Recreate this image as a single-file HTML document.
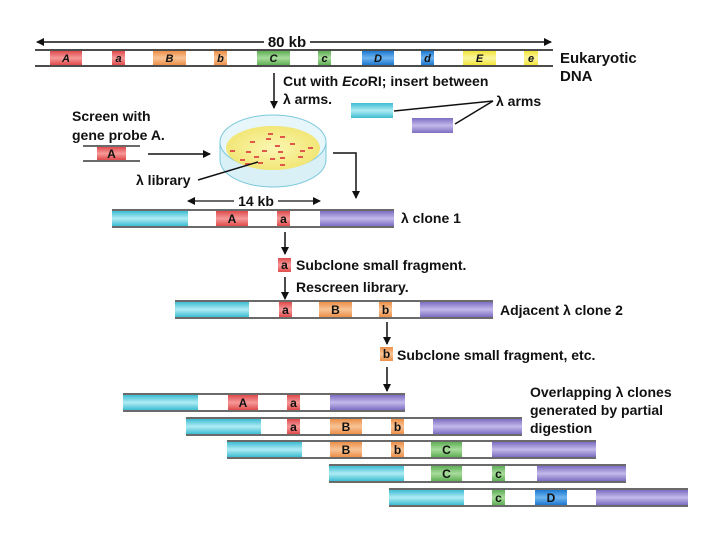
<!DOCTYPE html>
<html><head><meta charset="utf-8"><style>
html,body{margin:0;padding:0;background:#fff}
svg{display:block}
text{font-family:"Liberation Sans","DejaVu Sans",sans-serif;font-weight:bold;fill:#111}
</style></head><body>
<svg width="720" height="540" viewBox="0 0 720 540" xmlns="http://www.w3.org/2000/svg">
<defs>
<linearGradient id="gr" x1="0" y1="0" x2="0" y2="1"><stop offset="0" stop-color="#e04a4c"/><stop offset=".5" stop-color="#f59a98"/><stop offset="1" stop-color="#e04a4c"/></linearGradient>
<linearGradient id="go" x1="0" y1="0" x2="0" y2="1"><stop offset="0" stop-color="#ec8f48"/><stop offset=".5" stop-color="#f8c496"/><stop offset="1" stop-color="#ec8f48"/></linearGradient>
<linearGradient id="gg" x1="0" y1="0" x2="0" y2="1"><stop offset="0" stop-color="#5fae55"/><stop offset=".5" stop-color="#a8dc9c"/><stop offset="1" stop-color="#5fae55"/></linearGradient>
<linearGradient id="gb" x1="0" y1="0" x2="0" y2="1"><stop offset="0" stop-color="#1c78d0"/><stop offset=".5" stop-color="#6fb4ee"/><stop offset="1" stop-color="#1c78d0"/></linearGradient>
<linearGradient id="gy" x1="0" y1="0" x2="0" y2="1"><stop offset="0" stop-color="#f2e43a"/><stop offset=".5" stop-color="#fbf5a0"/><stop offset="1" stop-color="#f2e43a"/></linearGradient>
<linearGradient id="gc" x1="0" y1="0" x2="0" y2="1"><stop offset="0" stop-color="#3cbcd2"/><stop offset=".5" stop-color="#b0ecf4"/><stop offset="1" stop-color="#3cbcd2"/></linearGradient>
<linearGradient id="gp" x1="0" y1="0" x2="0" y2="1"><stop offset="0" stop-color="#7d6cc2"/><stop offset=".5" stop-color="#c4baea"/><stop offset="1" stop-color="#7d6cc2"/></linearGradient>
<marker id="ah" markerWidth="8" markerHeight="8" refX="7" refY="4" orient="auto" markerUnits="userSpaceOnUse"><path d="M0,0 L8,4 L0,8 Z" fill="#111"/></marker>
<radialGradient id="gd" cx=".5" cy=".5" r=".5"><stop offset="0" stop-color="#fbf7b4"/><stop offset="1" stop-color="#f2e676"/></radialGradient>
</defs>

<!-- top DNA -->
<line x1="37" y1="42" x2="270" y2="42" stroke="#111" stroke-width="1.5" marker-end="url(#ah)" transform="rotate(180 153.5 42)"/>
<line x1="305" y1="42" x2="551" y2="42" stroke="#111" stroke-width="1.5" marker-end="url(#ah)"/>
<rect x="264" y="34" width="46" height="14" fill="#fff"/>
<text x="287" y="47" font-size="15" text-anchor="middle">80 kb</text>
<g font-size="11" font-style="italic" text-anchor="middle">
<rect x="50" y="51" width="32" height="14" fill="url(#gr)"/><text x="66" y="62">A</text>
<rect x="112" y="51" width="13" height="14" fill="url(#gr)"/><text x="118.5" y="62">a</text>
<rect x="153" y="51" width="33" height="14" fill="url(#go)"/><text x="169.5" y="62">B</text>
<rect x="214" y="51" width="13" height="14" fill="url(#go)"/><text x="220.5" y="62">b</text>
<rect x="257" y="51" width="33" height="14" fill="url(#gg)"/><text x="273.5" y="62">C</text>
<rect x="318" y="51" width="13" height="14" fill="url(#gg)"/><text x="324.5" y="62">c</text>
<rect x="362" y="51" width="32" height="14" fill="url(#gb)"/><text x="378" y="62">D</text>
<rect x="421" y="51" width="13" height="14" fill="url(#gb)"/><text x="427.5" y="62">d</text>
<rect x="463" y="51" width="33" height="14" fill="url(#gy)"/><text x="479.5" y="62">E</text>
<rect x="524" y="51" width="14" height="14" fill="url(#gy)"/><text x="531" y="62">e</text>
</g>
<line x1="35" y1="50" x2="553" y2="50" stroke="#111" stroke-width="1.5"/>
<line x1="35" y1="66" x2="553" y2="66" stroke="#111" stroke-width="1.5"/>
<text x="560" y="63" font-size="15">Eukaryotic</text>
<text x="560" y="81" font-size="15">DNA</text>

<line x1="274" y1="73" x2="274" y2="108" stroke="#111" stroke-width="1.5" marker-end="url(#ah)"/>
<text x="283" y="86" font-size="14">Cut with <tspan font-style="italic">Eco</tspan>RI; insert between</text>
<text x="283" y="104" font-size="14">λ arms.</text>
<rect x="351" y="103" width="42" height="15" fill="url(#gc)"/>
<rect x="412" y="118" width="41" height="15" fill="url(#gp)"/>
<line x1="493" y1="101" x2="394" y2="111" stroke="#111" stroke-width="1.5"/>
<line x1="493" y1="101" x2="455" y2="124" stroke="#111" stroke-width="1.5"/>
<text x="496" y="106" font-size="14">λ arms</text>

<!-- screen -->
<text x="72" y="121" font-size="14">Screen with</text>
<text x="72" y="140" font-size="14">gene probe A.</text>
<rect x="97" y="147" width="29" height="13" fill="url(#gr)"/>
<text x="111.5" y="158" font-size="12" text-anchor="middle">A</text>
<line x1="83" y1="146" x2="140" y2="146" stroke="#111" stroke-width="1.2"/>
<line x1="83" y1="161" x2="140" y2="161" stroke="#111" stroke-width="1.2"/>
<line x1="148" y1="154" x2="210" y2="154" stroke="#111" stroke-width="1.5" marker-end="url(#ah)"/>

<!-- dish -->
<path d="M220,142 L220,160 A53,27 0 0 0 326,160 L326,142" fill="#d8f0f6" stroke="#7cc8dc" stroke-width="1"/>
<ellipse cx="273" cy="142" rx="53" ry="27" fill="#e6f6fa" stroke="#7cc8dc" stroke-width="1"/>
<ellipse cx="273" cy="148" rx="47" ry="22" fill="url(#gd)"/>
<g fill="#e0584a">
<rect x="268" y="133" width="5" height="2"/><rect x="280" y="136" width="5" height="2"/><rect x="250" y="141" width="5" height="2"/><rect x="275" y="145" width="5" height="2"/><rect x="290" y="143" width="5" height="2"/><rect x="230" y="150" width="5" height="2"/><rect x="246" y="151" width="5" height="2"/><rect x="262" y="150" width="5" height="2"/><rect x="278" y="151" width="5" height="2"/><rect x="300" y="150" width="5" height="2"/><rect x="308" y="147" width="5" height="2"/><rect x="254" y="156" width="5" height="2"/><rect x="270" y="158" width="5" height="2"/><rect x="280" y="157" width="5" height="2"/><rect x="298" y="156" width="5" height="2"/><rect x="240" y="159" width="5" height="2"/><rect x="258" y="162" width="5" height="2"/><rect x="280" y="164" width="5" height="2"/><rect x="245" y="163" width="5" height="2"/><rect x="266" y="138" width="5" height="2"/>
</g>
<line x1="198" y1="180" x2="258" y2="162" stroke="#111" stroke-width="1.5"/>
<text x="136" y="185" font-size="14">λ library</text>
<polyline points="333,153 356,153 356,198" fill="none" stroke="#111" stroke-width="1.5" marker-end="url(#ah)"/>

<!-- clone 1 -->
<line x1="188" y1="201" x2="238" y2="201" stroke="#111" stroke-width="1.2" marker-end="url(#ah)" transform="rotate(180 213 201)"/>
<line x1="276" y1="201" x2="320" y2="201" stroke="#111" stroke-width="1.2" marker-end="url(#ah)"/>
<rect x="234" y="194" width="44" height="13" fill="#fff"/>
<text x="256" y="206" font-size="14" text-anchor="middle">14 kb</text>
<g font-size="12" text-anchor="middle">
<rect x="112" y="211" width="76" height="15" fill="url(#gc)"/>
<rect x="216" y="211" width="32" height="15" fill="url(#gr)"/><text x="232" y="223">A</text>
<rect x="277" y="211" width="13" height="15" fill="url(#gr)"/><text x="283.5" y="223">a</text>
<rect x="320" y="211" width="74" height="15" fill="url(#gp)"/>
</g>
<line x1="112" y1="210" x2="394" y2="210" stroke="#111" stroke-width="1.2"/>
<line x1="112" y1="227" x2="394" y2="227" stroke="#111" stroke-width="1.2"/>
<text x="401" y="223" font-size="14">λ clone 1</text>

<line x1="285" y1="232" x2="285" y2="254" stroke="#111" stroke-width="1.5" marker-end="url(#ah)"/>
<rect x="278" y="258" width="13" height="14" fill="url(#gr)"/><text x="284.5" y="269" font-size="12" text-anchor="middle">a</text>
<text x="296" y="270" font-size="14">Subclone small fragment.</text>
<text x="296" y="292" font-size="14">Rescreen library.</text>
<line x1="285" y1="277" x2="285" y2="299" stroke="#111" stroke-width="1.5" marker-end="url(#ah)"/>

<!-- clone 2 -->
<g font-size="12" text-anchor="middle">
<rect x="175" y="302" width="74" height="15" fill="url(#gc)"/>
<rect x="279" y="302" width="13" height="15" fill="url(#gr)"/><text x="285.5" y="314">a</text>
<rect x="319" y="302" width="33" height="15" fill="url(#go)"/><text x="335.5" y="314">B</text>
<rect x="379" y="302" width="13" height="15" fill="url(#go)"/><text x="385.5" y="314">b</text>
<rect x="420" y="302" width="73" height="15" fill="url(#gp)"/>
</g>
<line x1="175" y1="301" x2="493" y2="301" stroke="#111" stroke-width="1.2"/>
<line x1="175" y1="318" x2="493" y2="318" stroke="#111" stroke-width="1.2"/>
<text x="500" y="315" font-size="14">Adjacent λ clone 2</text>

<line x1="387" y1="322" x2="387" y2="344" stroke="#111" stroke-width="1.5" marker-end="url(#ah)"/>
<rect x="380" y="347" width="13" height="14" fill="url(#go)"/><text x="386.5" y="358" font-size="12" text-anchor="middle">b</text>
<text x="397" y="360" font-size="14">Subclone small fragment, etc.</text>
<line x1="387" y1="367" x2="387" y2="391" stroke="#111" stroke-width="1.5" marker-end="url(#ah)"/>

<text x="530" y="397" font-size="14">Overlapping λ clones</text>
<text x="530" y="415" font-size="14">generated by partial</text>
<text x="530" y="433" font-size="14">digestion</text>

<g font-size="12" text-anchor="middle" stroke-width="1.2">
<rect x="123" y="395" width="75" height="15" fill="url(#gc)"/>
<rect x="228" y="395" width="30" height="15" fill="url(#gr)"/><text x="243" y="407">A</text>
<rect x="287" y="395" width="13" height="15" fill="url(#gr)"/><text x="293.5" y="407">a</text>
<rect x="330" y="395" width="75" height="15" fill="url(#gp)"/>
<line x1="123" y1="394" x2="405" y2="394" stroke="#111"/><line x1="123" y1="411" x2="405" y2="411" stroke="#111"/>
<rect x="186" y="419" width="75" height="15" fill="url(#gc)"/>
<rect x="287" y="419" width="13" height="15" fill="url(#gr)"/><text x="293.5" y="431">a</text>
<rect x="330" y="419" width="32" height="15" fill="url(#go)"/><text x="346" y="431">B</text>
<rect x="391" y="419" width="13" height="15" fill="url(#go)"/><text x="397.5" y="431">b</text>
<rect x="433" y="419" width="89" height="15" fill="url(#gp)"/>
<line x1="186" y1="418" x2="522" y2="418" stroke="#111"/><line x1="186" y1="435" x2="522" y2="435" stroke="#111"/>
<rect x="227" y="442" width="75" height="15" fill="url(#gc)"/>
<rect x="330" y="442" width="32" height="15" fill="url(#go)"/><text x="346" y="454">B</text>
<rect x="391" y="442" width="13" height="15" fill="url(#go)"/><text x="397.5" y="454">b</text>
<rect x="431" y="442" width="31" height="15" fill="url(#gg)"/><text x="446.5" y="454">C</text>
<rect x="492" y="442" width="104" height="15" fill="url(#gp)"/>
<line x1="227" y1="441" x2="596" y2="441" stroke="#111"/><line x1="227" y1="458" x2="596" y2="458" stroke="#111"/>
<rect x="329" y="466" width="75" height="15" fill="url(#gc)"/>
<rect x="431" y="466" width="31" height="15" fill="url(#gg)"/><text x="446.5" y="478">C</text>
<rect x="492" y="466" width="13" height="15" fill="url(#gg)"/><text x="498.5" y="478">c</text>
<rect x="537" y="466" width="89" height="15" fill="url(#gp)"/>
<line x1="329" y1="465" x2="626" y2="465" stroke="#111"/><line x1="329" y1="482" x2="626" y2="482" stroke="#111"/>
<rect x="389" y="490" width="75" height="15" fill="url(#gc)"/>
<rect x="492" y="490" width="13" height="15" fill="url(#gg)"/><text x="498.5" y="502">c</text>
<rect x="535" y="490" width="32" height="15" fill="url(#gb)"/><text x="551" y="502">D</text>
<rect x="596" y="490" width="92" height="15" fill="url(#gp)"/>
<line x1="389" y1="489" x2="688" y2="489" stroke="#111"/><line x1="389" y1="506" x2="688" y2="506" stroke="#111"/>
</g>
</svg>
</body></html>
